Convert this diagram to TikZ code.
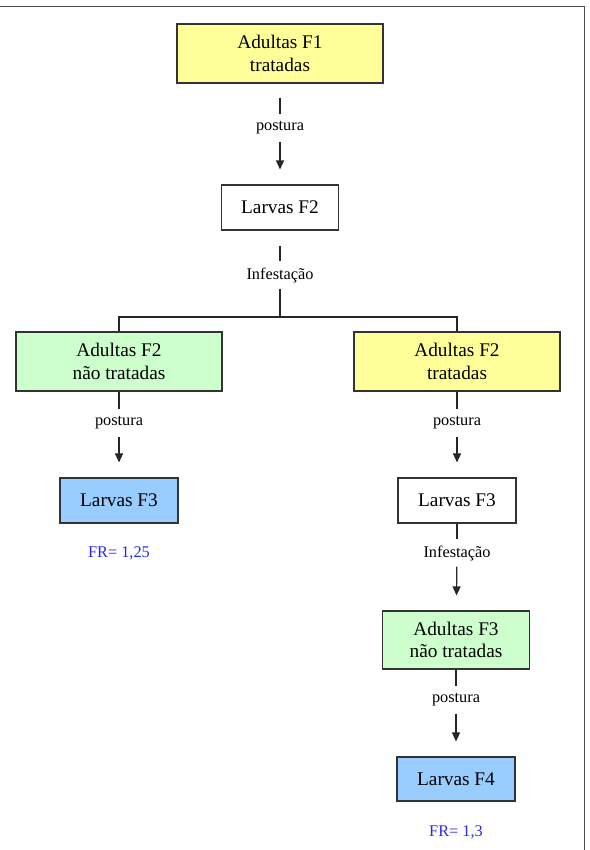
\documentclass[tikz,border=0pt]{standalone}
\usepackage{fontspec}
\setmainfont{Liberation Serif}
\usepackage{tikz}
\usetikzlibrary{arrows,arrows.meta}
\definecolor{amarelo}{RGB}{255,255,153}
\definecolor{verde}{RGB}{204,255,204}
\definecolor{azul}{RGB}{153,204,255}
\definecolor{frblue}{RGB}{40,40,235}
\tikzstyle{box} = [draw=black!80, line width=1.1pt, align=center, inner sep=0pt,
  font=\rmfamily\fontsize{19.3}{22.7}\selectfont]
\tikzstyle{lab} = [inner sep=0pt, minimum height=27pt, font=\rmfamily\fontsize{16.3}{18}\selectfont]
\tikzstyle{line} = [draw, line width=1.2pt, black!85]
\tikzstyle{seta} = [draw, line width=1.2pt, black!85, -{Triangle[length=9pt,width=8pt]}, shorten >=15pt]

\begin{document}
\begin{tikzpicture}[x=1pt,y=-1pt]
	\useasboundingbox (0,0) rectangle (589,850);
	\draw[line width=1.6pt, black!70] (0,6.5) -- (584.5,6.5) -- (584.5,850);

	% ------------------- Boxes ------------------- %
	\node[box, fill=amarelo, minimum width=206pt, minimum height=59pt] (a1) at (280,53.5) {Adultas F1\\tratadas};
	\node[box, minimum width=117pt, minimum height=45pt] (l2) at (280,207.5) {Larvas F2};
	\node[box, fill=verde, minimum width=206pt, minimum height=59pt] (a2n) at (119,361.5) {Adultas F2\\não tratadas};
	\node[box, fill=amarelo, minimum width=206pt, minimum height=59pt] (a2t) at (457,361.5) {Adultas F2\\tratadas};
	\node[box, fill=azul, minimum width=118pt, minimum height=45pt] (l3n) at (119,500.5) {Larvas F3};
	\node[box, minimum width=118pt, minimum height=45pt] (l3t) at (457,500.5) {Larvas F3};
	\node[box, fill=verde, minimum width=147pt, minimum height=58pt] (a3) at (456,640) {Adultas F3\\não tratadas};
	\node[box, fill=azul, minimum width=118pt, minimum height=44pt] (l4) at (456,779) {Larvas F4};

	% ------------------- Labels ------------------- %
	\node[lab] (p1) at (280,128) {postura};
	\node[lab] (i1) at (280,275) {Infestação};
	\node[lab] (p2) at (119,423) {postura};
	\node[lab] (p3) at (457,423) {postura};
	\node[lab] (i2) at (457,553) {Infestação};
	\node[lab] (p4) at (456,700) {postura};
	\node[lab, text=frblue] (fr1) at (119,553) {FR= 1,25};
	\node[lab, text=frblue] (fr2) at (456,832) {FR= 1,3};
	\coordinate (split) at (280,317);

	% ------------------- Connectors ------------------- %
	\path[line, shorten <=14pt] (a1) -- (p1);
	\path[seta] (p1) -- (l2);
	\path[line, shorten <=15pt] (l2) -- (i1);
	\path[line] (i1) -- (split);
	\path[line] (a2n.north) |- (split) -| (a2t.north);

	\path[line] (a2n) -- (p2);
	\path[seta] (p2) -- (l3n);
	\path[line] (a2t) -- (p3);
	\path[seta] (p3) -- (l3t);
	\path[line] (l3t) -- (i2);
	\path[seta] (i2) -- (a3);
	\path[line] (a3) -- (p4);
	\path[seta] (p4) -- (l4);
\end{tikzpicture}
\end{document}
